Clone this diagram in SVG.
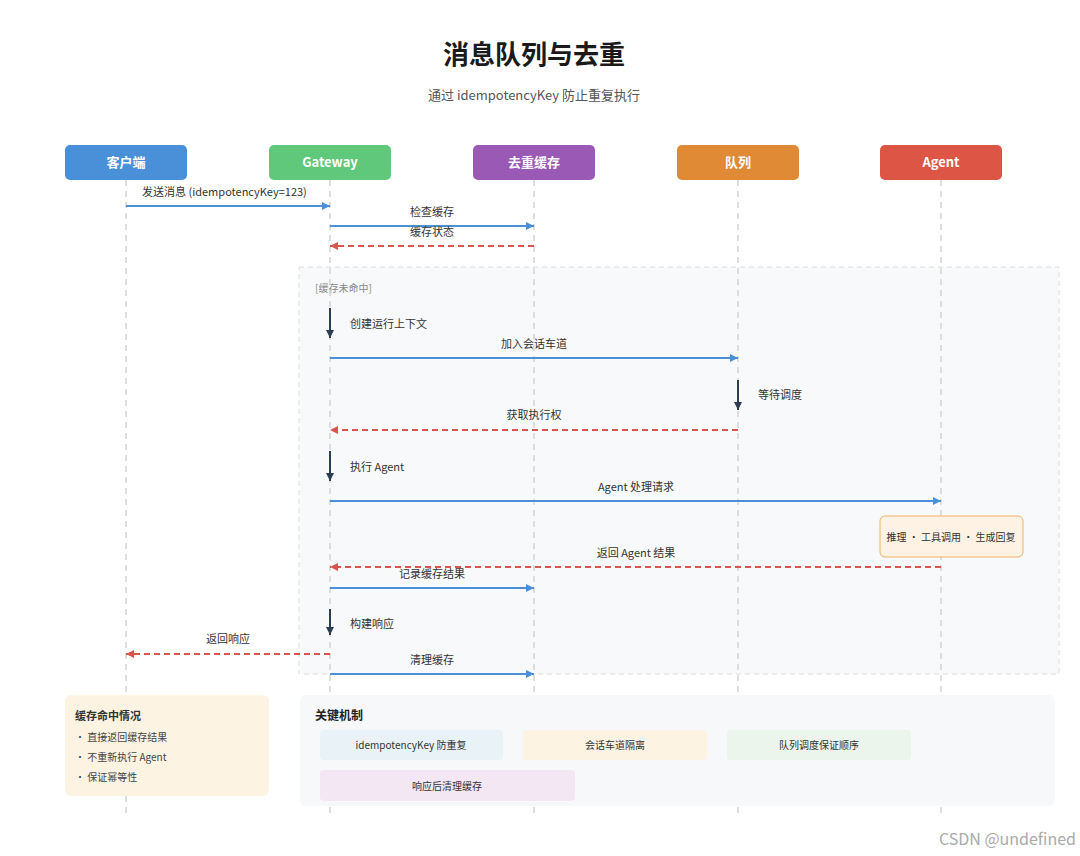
<svg xmlns="http://www.w3.org/2000/svg" width="1080" height="856" viewBox="0 0 1080 856">
<style>
text{font-family:"Noto Sans CJK SC","Liberation Sans",sans-serif;}
.life{stroke:#d4d4d4;stroke-width:1.5;stroke-dasharray:6 5;}
.hd{fill:#fff;font-size:13px;font-weight:bold;text-anchor:middle;}
.lbl{fill:#333;font-size:11px;}
.c{text-anchor:middle;}
.req{stroke:#4a90d9;stroke-width:2;fill:none;}
.ret{stroke:#d9534f;stroke-width:2;stroke-dasharray:6 4;fill:none;}
.self{stroke:#2c3e50;stroke-width:2;}
</style>
<defs>
<marker id="ab" viewBox="0 0 10 10" refX="10" refY="5" markerWidth="10" markerHeight="8" orient="auto" markerUnits="userSpaceOnUse"><path d="M0,0L10,5L0,10z" fill="#4a90d9"/></marker>
<marker id="ar" viewBox="0 0 10 10" refX="10" refY="5" markerWidth="10" markerHeight="8" orient="auto" markerUnits="userSpaceOnUse"><path d="M0,0L10,5L0,10z" fill="#d9534f"/></marker>
<marker id="ad" viewBox="0 0 10 10" refX="10" refY="5" markerWidth="10" markerHeight="8" orient="auto" markerUnits="userSpaceOnUse"><path d="M0,0L10,5L0,10z" fill="#2c3e50"/></marker>
</defs>
<rect width="1080" height="856" fill="#fff"/>
<text x="534" y="64" class="c" font-size="26" font-weight="bold" fill="#1a1a1a">消息队列与去重</text>
<text x="534" y="100" class="c" font-size="13" fill="#555">通过 idempotencyKey 防止重复执行</text>
<rect x="299" y="267" width="760" height="407" fill="#f8f9fa" stroke="#ddd" stroke-dasharray="5 4"/>
<text x="315" y="292" font-size="10" fill="#888">[缓存未命中]</text>
<g id="lifelines">
<line class="life" x1="126" y1="180" x2="126" y2="815"/>
<line class="life" x1="330" y1="180" x2="330" y2="815"/>
<line class="life" x1="534" y1="180" x2="534" y2="815"/>
<line class="life" x1="738" y1="180" x2="738" y2="815"/>
<line class="life" x1="941" y1="180" x2="941" y2="815"/>
</g>
<g id="client"><rect x="65" y="145" width="122" height="35" rx="5" fill="#4a90d9"/><text x="126" y="167" class="hd">客户端</text></g>
<g id="gateway"><rect x="269" y="145" width="122" height="35" rx="5" fill="#5fc87a"/><text x="330" y="167" class="hd">Gateway</text></g>
<g id="cache"><rect x="473" y="145" width="122" height="35" rx="5" fill="#9b59b6"/><text x="534" y="167" class="hd">去重缓存</text></g>
<g id="queue"><rect x="677" y="145" width="122" height="35" rx="5" fill="#e08a35"/><text x="738" y="167" class="hd">队列</text></g>
<g id="agent"><rect x="880" y="145" width="122" height="35" rx="5" fill="#dc5545"/><text x="941" y="167" class="hd">Agent</text></g>
<g id="connectors">
<line class="req" x1="126" y1="206" x2="330" y2="206" marker-end="url(#ab)"/>
<text x="142" y="196" class="lbl">发送消息 (idempotencyKey=123)</text>
<line class="req" x1="330" y1="226" x2="534" y2="226" marker-end="url(#ab)"/>
<text x="432" y="216" class="lbl c">检查缓存</text>
<line class="ret" x1="534" y1="246" x2="330" y2="246" marker-end="url(#ar)"/>
<text x="432" y="236" class="lbl c">缓存状态</text>
<line class="self" x1="330" y1="308" x2="330" y2="338" marker-end="url(#ad)"/>
<text x="350" y="328" class="lbl">创建运行上下文</text>
<line class="req" x1="330" y1="358" x2="738" y2="358" marker-end="url(#ab)"/>
<text x="534" y="348" class="lbl c">加入会话车道</text>
<line class="self" x1="738" y1="380" x2="738" y2="410" marker-end="url(#ad)"/>
<text x="758" y="399" class="lbl">等待调度</text>
<line class="ret" x1="738" y1="430" x2="330" y2="430" marker-end="url(#ar)"/>
<text x="534" y="419" class="lbl c">获取执行权</text>
<line class="self" x1="330" y1="451" x2="330" y2="481" marker-end="url(#ad)"/>
<text x="350" y="471" class="lbl">执行 Agent</text>
<line class="req" x1="330" y1="501" x2="941" y2="501" marker-end="url(#ab)"/>
<text x="636" y="491" class="lbl c">Agent 处理请求</text>
<line class="ret" x1="941" y1="567" x2="330" y2="567" marker-end="url(#ar)"/>
<text x="636" y="557" class="lbl c">返回 Agent 结果</text>
<line class="req" x1="330" y1="588" x2="534" y2="588" marker-end="url(#ab)"/>
<text x="432" y="578" class="lbl c">记录缓存结果</text>
<line class="self" x1="330" y1="609" x2="330" y2="635" marker-end="url(#ad)"/>
<text x="350" y="628" class="lbl">构建响应</text>
<line class="ret" x1="330" y1="654" x2="126" y2="654" marker-end="url(#ar)"/>
<text x="228" y="643" class="lbl c">返回响应</text>
<line class="req" x1="330" y1="674" x2="534" y2="674" marker-end="url(#ab)"/>
<text x="432" y="664" class="lbl c">清理缓存</text>
</g>
<g id="note"><rect x="880" y="516" width="143" height="41" rx="5" fill="#fdf2e3" stroke="#f0b060"/><text x="951" y="541" class="c" font-size="10" fill="#333">推理 · 工具调用 · 生成回复</text></g>
<g id="hit"><rect x="65" y="695" width="204" height="101" rx="6" fill="#fdf3e3"/>
<text x="75" y="720" font-size="11" font-weight="bold" fill="#333">缓存命中情况</text>
<text x="75" y="741" font-size="10" fill="#444">· 直接返回缓存结果</text>
<text x="75" y="761" font-size="10" fill="#444">· 不重新执行 Agent</text>
<text x="75" y="781" font-size="10" fill="#444">· 保证幂等性</text></g>
<g id="mech"><rect x="300" y="695" width="755" height="111" rx="6" fill="#f6f8fa"/>
<text x="315" y="720" font-size="12" font-weight="bold" fill="#222">关键机制</text>
<rect x="320" y="730" width="183" height="30" rx="4" fill="#e9f3f7"/><text x="411" y="749" class="c" font-size="10" fill="#333">idempotencyKey 防重复</text>
<rect x="523" y="730" width="184" height="30" rx="4" fill="#fdf3e3"/><text x="615" y="749" class="c" font-size="10" fill="#333">会话车道隔离</text>
<rect x="727" y="730" width="184" height="30" rx="4" fill="#ebf5ec"/><text x="819" y="749" class="c" font-size="10" fill="#333">队列调度保证顺序</text>
<rect x="320" y="770" width="255" height="31" rx="4" fill="#f3e7f3"/><text x="447" y="790" class="c" font-size="10" fill="#333">响应后清理缓存</text></g>
<text x="1076" y="845" text-anchor="end" font-size="16" fill="#aaa">CSDN @undefined</text>
</svg>
